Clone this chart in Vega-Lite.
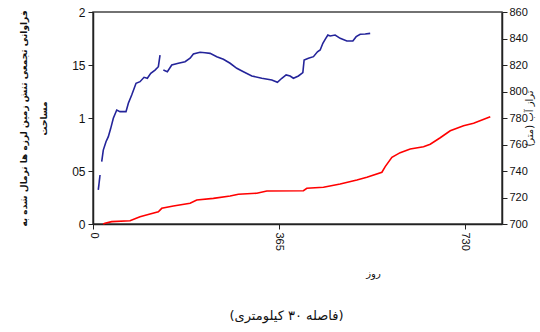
{
  "$schema": "https://vega.github.io/schema/vega-lite/v6.json",
  "autosize": "none",
  "width": 409,
  "height": 212,
  "padding": {"left": 93, "top": 12, "right": 38, "bottom": 108},
  "background": "white",
  "config": {
    "view": {"stroke": "#444", "strokeWidth": 1.5},
    "axis": {"grid": false, "domainColor": "#222", "tickColor": "#222", "labelColor": "#111", "titleColor": "#111", "labelFont": "Liberation Sans", "domainWidth": 1.5, "tickWidth": 1}
  },
  "title": {
    "text": "(فاصله ۳۰ کیلومتری)",
    "orient": "bottom",
    "anchor": "middle",
    "frame": "group",
    "dx": -11,
    "offset": 32,
    "font": "DejaVu Sans",
    "fontSize": 13,
    "fontWeight": "normal",
    "color": "#111"
  },
  "datasets": {
    "level": [
      {"day": 10.4, "v": 725.7, "seg": "a"},
      {"day": 13.8, "v": 737.0, "seg": "a"},
      {"day": 17.1, "v": 747.0, "seg": "b"},
      {"day": 20.2, "v": 755.8, "seg": "b"},
      {"day": 25.5, "v": 762.1, "seg": "b"},
      {"day": 30.1, "v": 765.9, "seg": "b"},
      {"day": 34.8, "v": 772.2, "seg": "b"},
      {"day": 39.9, "v": 779.8, "seg": "b"},
      {"day": 46.6, "v": 786.0, "seg": "b"},
      {"day": 53.0, "v": 784.8, "seg": "b"},
      {"day": 64.8, "v": 784.8, "seg": "b"},
      {"day": 69.4, "v": 791.1, "seg": "b"},
      {"day": 76.0, "v": 797.4, "seg": "b"},
      {"day": 84.5, "v": 806.2, "seg": "b"},
      {"day": 92.3, "v": 807.4, "seg": "b"},
      {"day": 100.2, "v": 810.7, "seg": "b"},
      {"day": 106.7, "v": 810.0, "seg": "b"},
      {"day": 113.4, "v": 813.7, "seg": "b"},
      {"day": 121.8, "v": 816.2, "seg": "b"},
      {"day": 128.3, "v": 818.7, "seg": "b"},
      {"day": 131.6, "v": 827.5, "seg": "b"},
      {"day": 138.1, "v": 816.2, "seg": "c"},
      {"day": 146.0, "v": 814.9, "seg": "c"},
      {"day": 154.6, "v": 820.0, "seg": "c"},
      {"day": 167.6, "v": 821.3, "seg": "c"},
      {"day": 180.7, "v": 822.5, "seg": "c"},
      {"day": 190.6, "v": 825.1, "seg": "c"},
      {"day": 197.1, "v": 828.3, "seg": "c"},
      {"day": 210.2, "v": 829.6, "seg": "c"},
      {"day": 220.0, "v": 829.3, "seg": "c"},
      {"day": 229.9, "v": 828.8, "seg": "c"},
      {"day": 243.0, "v": 826.3, "seg": "c"},
      {"day": 256.0, "v": 824.3, "seg": "c"},
      {"day": 269.2, "v": 821.3, "seg": "c"},
      {"day": 282.3, "v": 817.5, "seg": "c"},
      {"day": 295.3, "v": 814.9, "seg": "c"},
      {"day": 311.8, "v": 811.7, "seg": "c"},
      {"day": 331.4, "v": 810.0, "seg": "c"},
      {"day": 351.1, "v": 808.7, "seg": "c"},
      {"day": 362.1, "v": 806.9, "seg": "c"},
      {"day": 370.7, "v": 810.0, "seg": "c"},
      {"day": 379.2, "v": 812.5, "seg": "c"},
      {"day": 387.0, "v": 811.7, "seg": "c"},
      {"day": 393.5, "v": 810.0, "seg": "c"},
      {"day": 403.3, "v": 811.7, "seg": "c"},
      {"day": 412.0, "v": 814.2, "seg": "c"},
      {"day": 414.5, "v": 823.8, "seg": "c"},
      {"day": 423.0, "v": 825.1, "seg": "c"},
      {"day": 432.8, "v": 826.3, "seg": "c"},
      {"day": 440.7, "v": 830.0, "seg": "c"},
      {"day": 446.0, "v": 831.3, "seg": "c"},
      {"day": 451.3, "v": 836.4, "seg": "c"},
      {"day": 455.8, "v": 839.4, "seg": "c"},
      {"day": 461.1, "v": 842.6, "seg": "c"},
      {"day": 465.6, "v": 841.9, "seg": "c"},
      {"day": 475.4, "v": 842.6, "seg": "c"},
      {"day": 485.3, "v": 840.1, "seg": "c"},
      {"day": 498.4, "v": 838.1, "seg": "c"},
      {"day": 510.2, "v": 838.1, "seg": "c"},
      {"day": 516.7, "v": 841.4, "seg": "c"},
      {"day": 524.6, "v": 843.2, "seg": "c"},
      {"day": 534.4, "v": 843.4, "seg": "c"},
      {"day": 544.2, "v": 843.9, "seg": "c"}
    ],
    "cum": [
      {"day": 20.0, "c": 0.0},
      {"day": 23.6, "c": 0.007},
      {"day": 36.7, "c": 0.022},
      {"day": 72.7, "c": 0.031},
      {"day": 92.3, "c": 0.069},
      {"day": 112.0, "c": 0.094},
      {"day": 128.3, "c": 0.116},
      {"day": 135.0, "c": 0.148},
      {"day": 157.8, "c": 0.170},
      {"day": 190.6, "c": 0.195},
      {"day": 203.7, "c": 0.226},
      {"day": 236.3, "c": 0.242},
      {"day": 269.2, "c": 0.264},
      {"day": 285.5, "c": 0.280},
      {"day": 321.6, "c": 0.290},
      {"day": 341.3, "c": 0.311},
      {"day": 413.2, "c": 0.314},
      {"day": 419.8, "c": 0.337},
      {"day": 452.5, "c": 0.346},
      {"day": 485.3, "c": 0.377},
      {"day": 518.1, "c": 0.415},
      {"day": 537.7, "c": 0.441},
      {"day": 567.2, "c": 0.488},
      {"day": 573.7, "c": 0.541},
      {"day": 586.8, "c": 0.629},
      {"day": 603.1, "c": 0.673},
      {"day": 622.8, "c": 0.708},
      {"day": 648.9, "c": 0.729},
      {"day": 662.1, "c": 0.752},
      {"day": 681.7, "c": 0.814},
      {"day": 701.4, "c": 0.880},
      {"day": 727.5, "c": 0.927},
      {"day": 747.2, "c": 0.950},
      {"day": 780.0, "c": 1.012}
    ]
  },
  "layer": [
    {
      "data": {"name": "cum"},
      "mark": {"type": "line", "color": "#ff0000", "strokeWidth": 1.6},
      "encoding": {
        "x": {
          "field": "day", "type": "quantitative",
          "scale": {"domain": [0, 803], "nice": false},
          "axis": {"values": [0, 365, 730], "labelAngle": 90, "labelAlign": "left", "labelBaseline": "middle", "labelFontSize": 11, "tickSize": 5, "labelPadding": 3,
                   "title": "روز", "titleFont": "DejaVu Sans", "titleFontSize": 10, "titleFontWeight": "normal", "titleX": 280, "titleY": 44, "titleAnchor": "middle"}
        },
        "y": {
          "field": "c", "type": "quantitative",
          "scale": {"domain": [0, 2], "nice": false},
          "axis": {"values": [0, 0.5, 1, 1.5, 2], "labelExpr": "replace(format(datum.value, '.1~f'), '.', '')", "labelFontSize": 12, "tickSize": 5, "labelPadding": 3,
                   "title": ["فراوانی تجمعی تنش زمین لرزه ها نرمال شده به", "مساحت"],
                   "titleFont": "DejaVu Sans", "titleFontSize": 9, "titleFontWeight": "bold", "titleAngle": -90, "titleLineHeight": 20, "titleX": -70, "titleY": 106, "titleAlign": "center", "titleBaseline": "middle"}
        }
      }
    },
    {
      "data": {"name": "level"},
      "mark": {"type": "line", "color": "#24249a", "strokeWidth": 1.6},
      "encoding": {
        "x": {"field": "day", "type": "quantitative"},
        "detail": {"field": "seg"},
        "y": {
          "field": "v", "type": "quantitative",
          "scale": {"domain": [700, 860], "nice": false},
          "axis": {"orient": "right", "values": [700, 720, 740, 760, 780, 800, 820, 840, 860], "labelFontSize": 11, "tickSize": 5, "labelPadding": 2,
                   "title": "تراز آب (متر)", "titleFont": "DejaVu Sans", "titleFontSize": 10, "titleFontWeight": "normal", "titleAngle": -90, "titleX": 27, "titleY": 106, "titleAlign": "center", "titleBaseline": "middle"}
        }
      }
    }
  ],
  "resolve": {"scale": {"y": "independent"}}
}
